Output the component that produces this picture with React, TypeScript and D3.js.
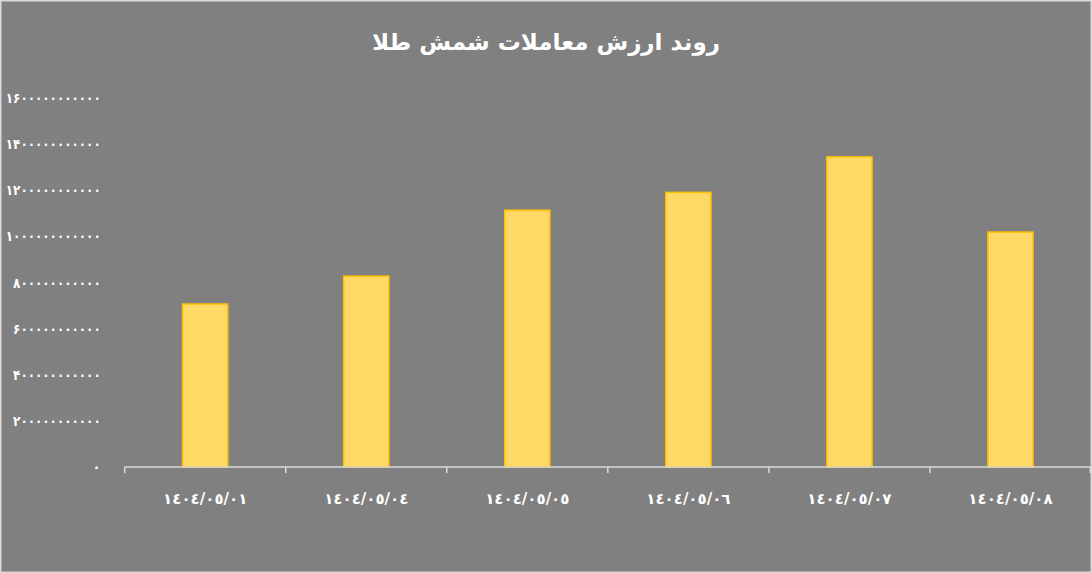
import React, { useEffect, useRef } from "react";
import * as d3 from "d3";

// dates (Arabic-Indic digits, as shown on the axis)
export const dates: string[] = [
  "١٤٠٤/٠٥/٠١",
  "١٤٠٤/٠٥/٠٤",
  "١٤٠٤/٠٥/٠٥",
  "١٤٠٤/٠٥/٠٦",
  "١٤٠٤/٠٥/٠٧",
  "١٤٠٤/٠٥/٠٨",
];
export const tradeValues: number[] = [
  710000000000, 831000000000, 1117000000000, 1194000000000, 1348000000000,
  1022000000000,
];
export const yTicks: number[] = [
  0, 200000000000, 400000000000, 600000000000, 800000000000, 1000000000000,
  1200000000000, 1400000000000, 1600000000000,
];
const title = "روند ارزش معاملات شمش طلا";

const toPersian = (n: number) =>
  String(n).replace(/\d/g, (d) => "۰۱۲۳۴۵۶۷۸۹"[+d]);

const GoldChart = ({ width = 1092, height = 573 }) => {
  const ref = useRef<SVGSVGElement | null>(null);

  useEffect(() => {
    document.body.style.margin = "0";
    const svg = d3.select(ref.current);
    svg.selectAll("*").remove();

    const margin = { top: 98, right: 1, bottom: 106, left: 124.7 };
    const innerW = width - margin.left - margin.right;
    const innerH = height - margin.top - margin.bottom;

    svg
      .append("rect")
      .attr("x", 0.75)
      .attr("y", 0.75)
      .attr("width", width - 1.5)
      .attr("height", height - 1.5)
      .attr("fill", "#808080")
      .attr("stroke", "#d9d9d9")
      .attr("stroke-width", 1.5);

    svg
      .append("text")
      .attr("x", width / 2)
      .attr("y", 50)
      .attr("text-anchor", "middle")
      .attr("fill", "#ffffff")
      .style("font-family", "'DejaVu Sans', sans-serif")
      .style("font-size", "23px")
      .style("font-weight", "bold")
      .text(title);

    const g = svg
      .append("g")
      .attr("transform", `translate(${margin.left}, ${margin.top})`);

    const x = d3
      .scaleBand<string>()
      .domain(dates)
      .range([0, innerW])
      .paddingInner(0.71)
      .paddingOuter(0.355);

    const y = d3.scaleLinear().domain([0, 1600000000000]).range([innerH, 0]);

    // y labels, no axis line; long labels squeezed to fit the left margin
    g.selectAll("text.ylab")
      .data(yTicks)
      .enter()
      .append("text")
      .attr("class", "ylab")
      .attr("x", -24)
      .attr("y", (d) => y(d) + 5)
      .attr("text-anchor", "end")
      .attr("fill", "#ffffff")
      .style("font-family", "'DejaVu Sans', sans-serif")
      .style("font-size", "14px")
      .style("font-weight", "bold")
      .each(function (d) {
        const label = toPersian(d);
        const t = d3.select(this).text(label);
        if (label.length > 1) {
          t.attr("textLength", label.length * 7.3).attr(
            "lengthAdjust",
            "spacingAndGlyphs",
          );
        }
      });

    g.selectAll("rect.bar")
      .data(tradeValues)
      .enter()
      .append("rect")
      .attr("class", "bar")
      .attr("x", (_d, i) => x(dates[i])! + 0.75)
      .attr("y", (d) => y(d) + 0.75)
      .attr("width", x.bandwidth() - 1.5)
      .attr("height", (d) => innerH - y(d) - 0.75)
      .attr("fill", "#ffd966")
      .attr("stroke", "#ffc000")
      .attr("stroke-width", 1.5);

    // x axis with ticks between bands
    const step = x.step();
    g.append("line")
      .attr("x1", 0)
      .attr("x2", innerW)
      .attr("y1", innerH)
      .attr("y2", innerH)
      .attr("stroke", "#d9d9d9")
      .attr("stroke-width", 1.5);

    g.selectAll("line.tick")
      .data(d3.range(dates.length + 1))
      .enter()
      .append("line")
      .attr("class", "tick")
      .attr("x1", (i) => Math.min(i * step, innerW - 0.75))
      .attr("x2", (i) => Math.min(i * step, innerW - 0.75))
      .attr("y1", innerH)
      .attr("y2", innerH + 6)
      .attr("stroke", "#d9d9d9")
      .attr("stroke-width", 1.5);

    g.selectAll("text.xlab")
      .data(dates)
      .enter()
      .append("text")
      .attr("class", "xlab")
      .attr("x", (d) => x(d)! + x.bandwidth() / 2)
      .attr("y", innerH + 37)
      .attr("text-anchor", "middle")
      .attr("fill", "#ffffff")
      .style("font-family", "'DejaVu Sans', sans-serif")
      .style("font-size", "15px")
      .style("font-weight", "bold")
      .text((d) => d);
  }, [width, height]);

  return <svg ref={ref} width={width} height={height} style={{ display: "block" }} />;
};

export default function App() {
  return <GoldChart />;
}
